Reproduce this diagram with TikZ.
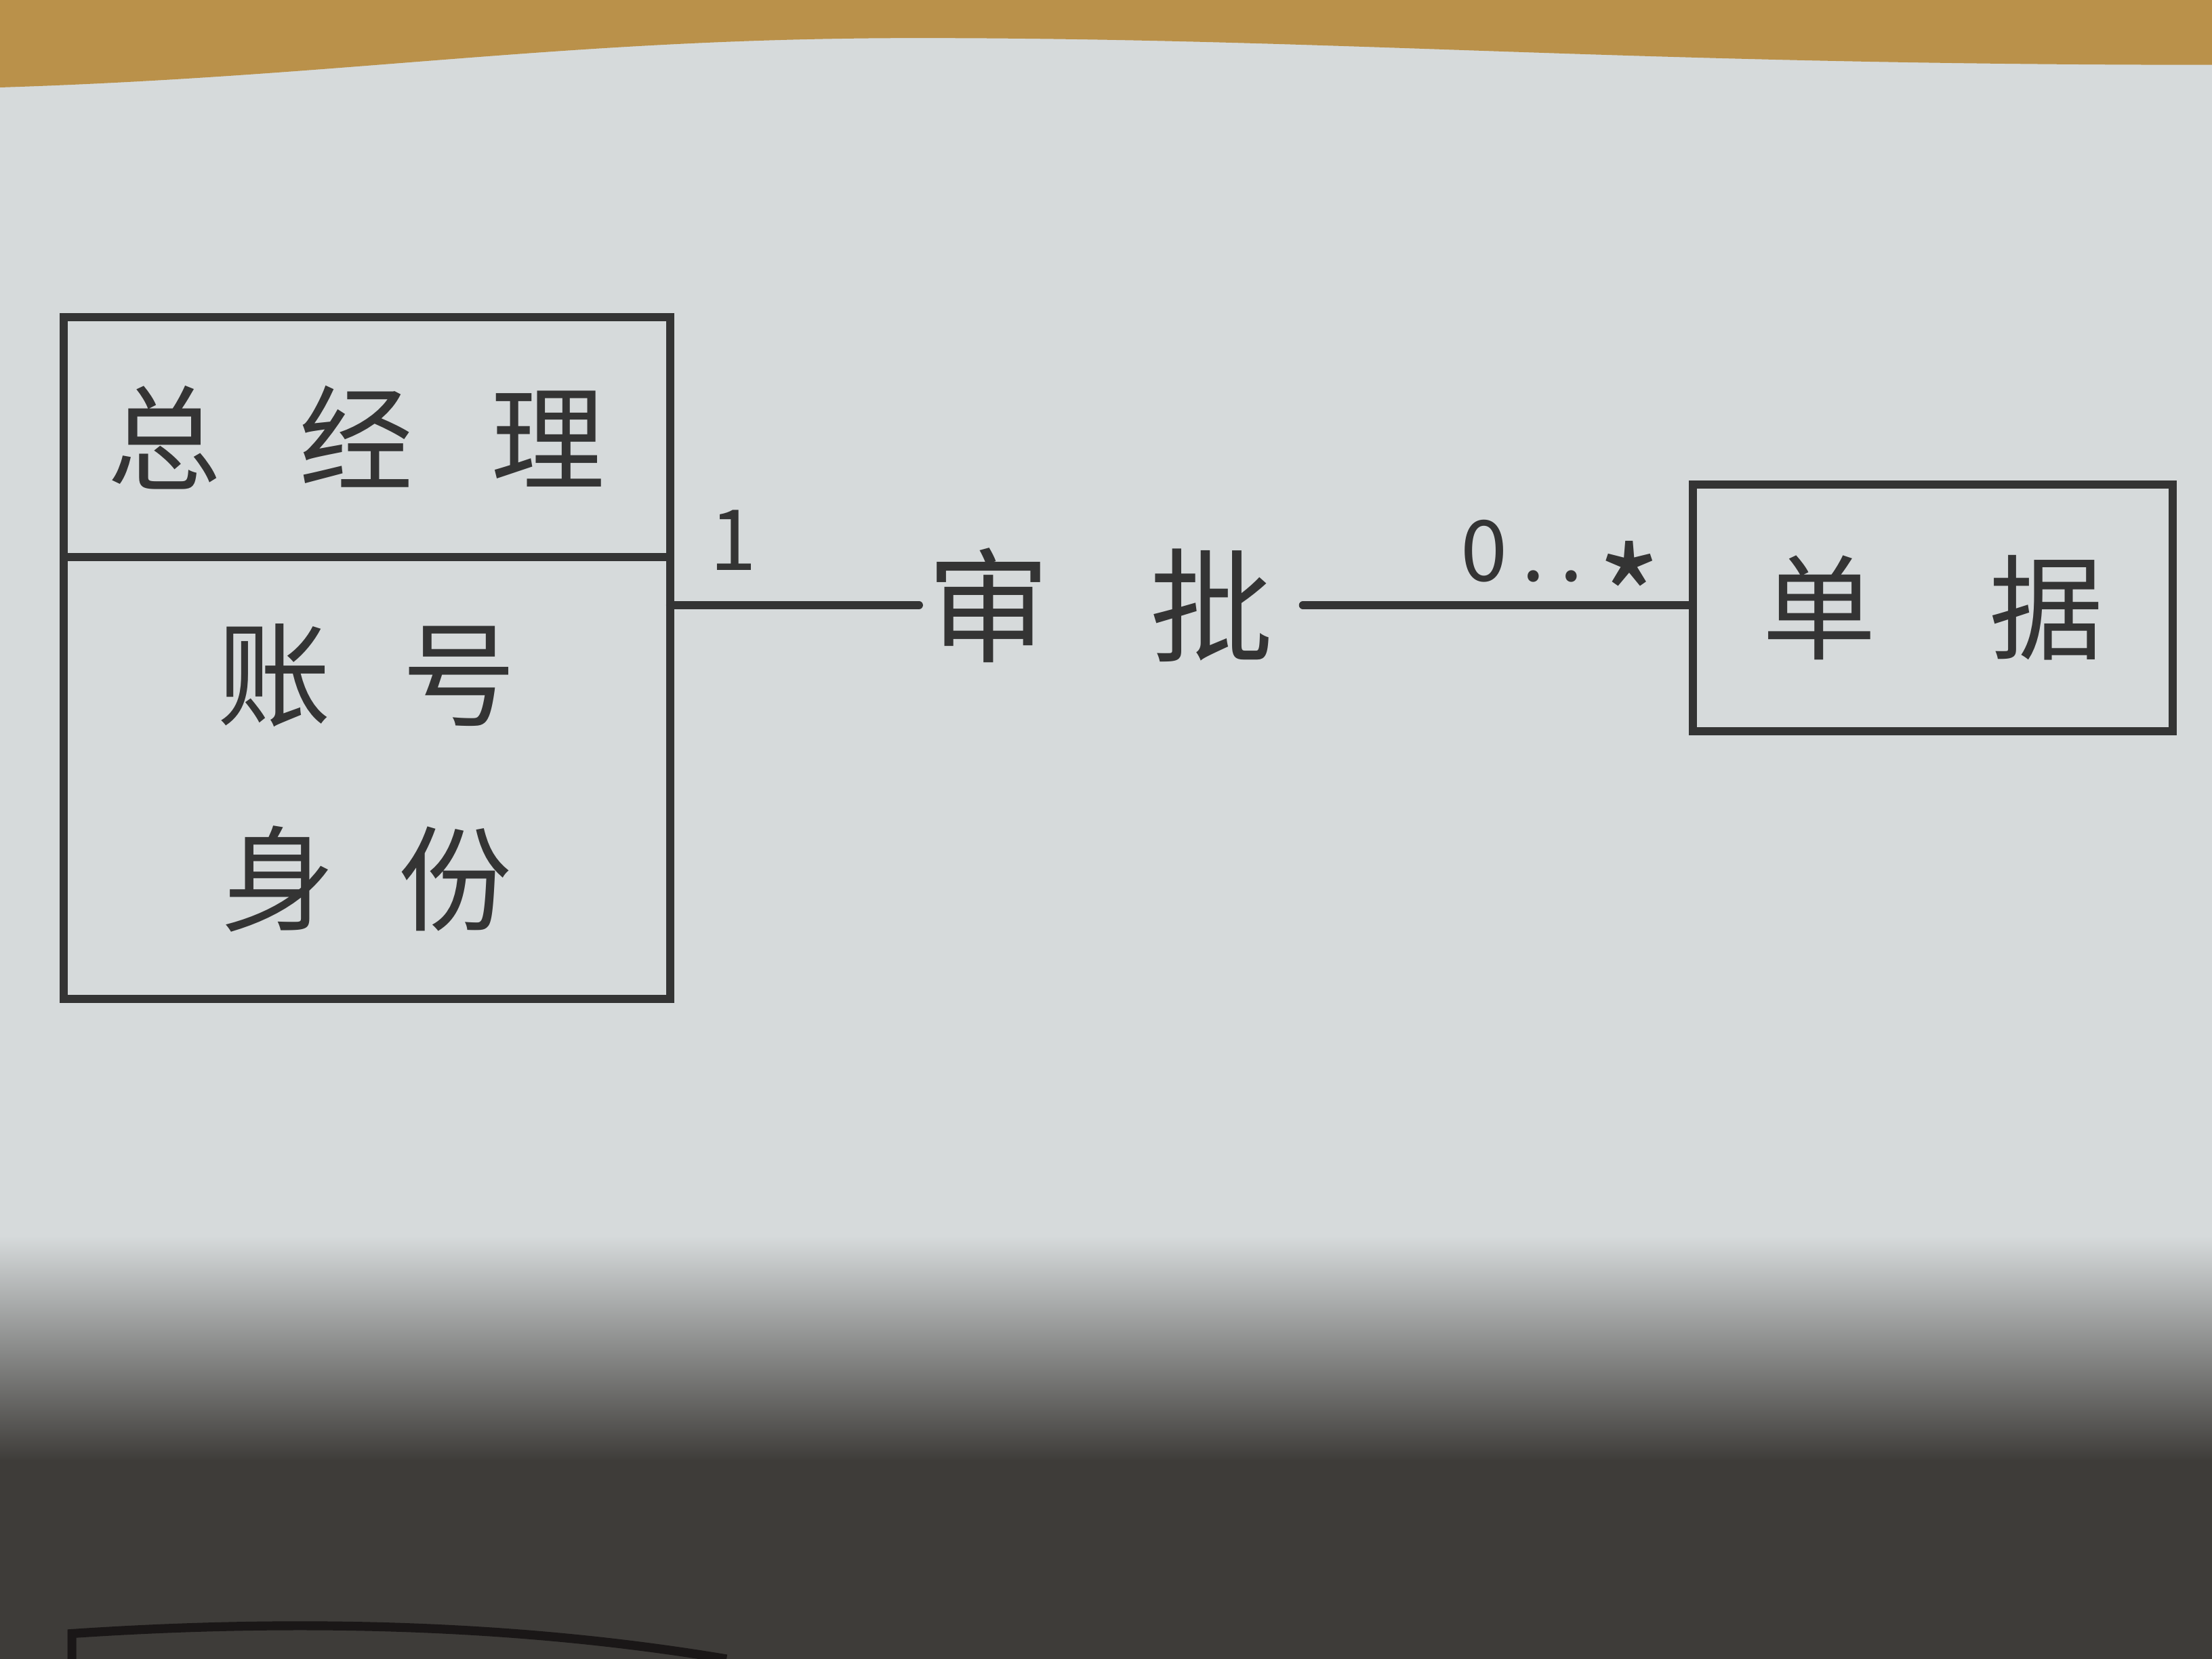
\documentclass[tikz,border=0pt]{standalone}
\usepackage{fontspec}
\setmainfont{Noto Sans CJK SC}
\usepackage{xcolor}
\usetikzlibrary{positioning}
\usetikzlibrary{calc}
\definecolor{inkcolor}{RGB}{52, 52, 52}
\definecolor{darkinkcolor}{RGB}{26, 23, 23}
\definecolor{papercolor}{RGB}{214, 218, 219}
\definecolor{shadowcolor}{RGB}{62, 60, 57}
\definecolor{woodcolor}{RGB}{186, 145, 74}
\tikzstyle{classbox} = [
    draw=inkcolor,
    line width=1.6pt,
    text=inkcolor,
    font=\fontsize{23}{27}\selectfont,
    inner sep=0pt,
    outer sep=0pt
]
\tikzstyle{assoclabel} = [text=inkcolor, font=\fontsize{25}{28}\selectfont, inner sep=0pt]
\tikzstyle{mult} = [text=inkcolor, font=\fontsize{17}{20}\selectfont, inner sep=0pt]
\tikzstyle{assoc} = [-, line width=1.6pt, inkcolor, line cap=round]

\begin{document}
\begin{tikzpicture}

	\useasboundingbox (0, 0) rectangle (15.68, 11.76);

	%
	% Paper, desk and shadow
	\fill[papercolor] (0, 0) rectangle (15.68, 11.76);
	\fill[woodcolor] (0, 11.76) -- (0, 11.14) .. controls (2.5, 11.22) and (4.0, 11.49) .. (6.5, 11.49)
		.. controls (9.5, 11.49) and (11.5, 11.30) .. (15.68, 11.30) -- (15.68, 11.76) -- cycle;
	\shade[top color=papercolor, bottom color=shadowcolor] (0, 1.40) rectangle (15.68, 3.00);
	\fill[shadowcolor] (0, 0) rectangle (15.68, 1.41);

	%
	% Classes

	% General manager
	\node[classbox, minimum width=4.3cm, minimum height=1.7cm] (gm) at (2.6, 8.66) {\hspace{-0.15cm}总\hspace{0.55cm}经\hspace{0.55cm}理};
	\node[classbox, minimum width=4.3cm, minimum height=3.13cm, align=center, below=0pt of gm] (gm-attr) {账\hspace{0.5cm}号\\[0.5cm]身\hspace{0.45cm}份};

	% Document
	\node[classbox, minimum width=3.4cm, minimum height=1.75cm] (doc) at (13.7, 7.45) {单\hspace{0.8cm}据};

	%
	% Association
	\node[assoclabel] (approve) at (7.8, 7.47) {审\hspace{0.7cm}批};
	\coordinate (approve-left) at ($(approve.west)+(-0.05, 0)$);
	\coordinate (approve-right) at ($(approve.east)+(0.2, 0)$);
	\draw[assoc] (gm-attr.east |- approve-left) -- (approve-left);
	\draw[assoc] (approve-right) -- (doc.west |- approve-right);

	% Multiplicities
	\node[mult] (one) at ($(gm-attr.east |- approve)+(0.45, 0.46)$) {1};
	\node[mult, anchor=base west] (many) at ($(doc.west |- approve)+(-1.65, 0.17)$) {0\,.\,.\,\raisebox{-0.5cm}{\fontsize{28}{28}\selectfont *}};

	%
	% Next class, cut off at the bottom
	\draw[darkinkcolor, line width=1.8pt] (0.51, 0) -- (0.51, 0.18) .. controls (2.0, 0.28) and (3.6, 0.26) .. (5.15, 0);

\end{tikzpicture}
\end{document}
